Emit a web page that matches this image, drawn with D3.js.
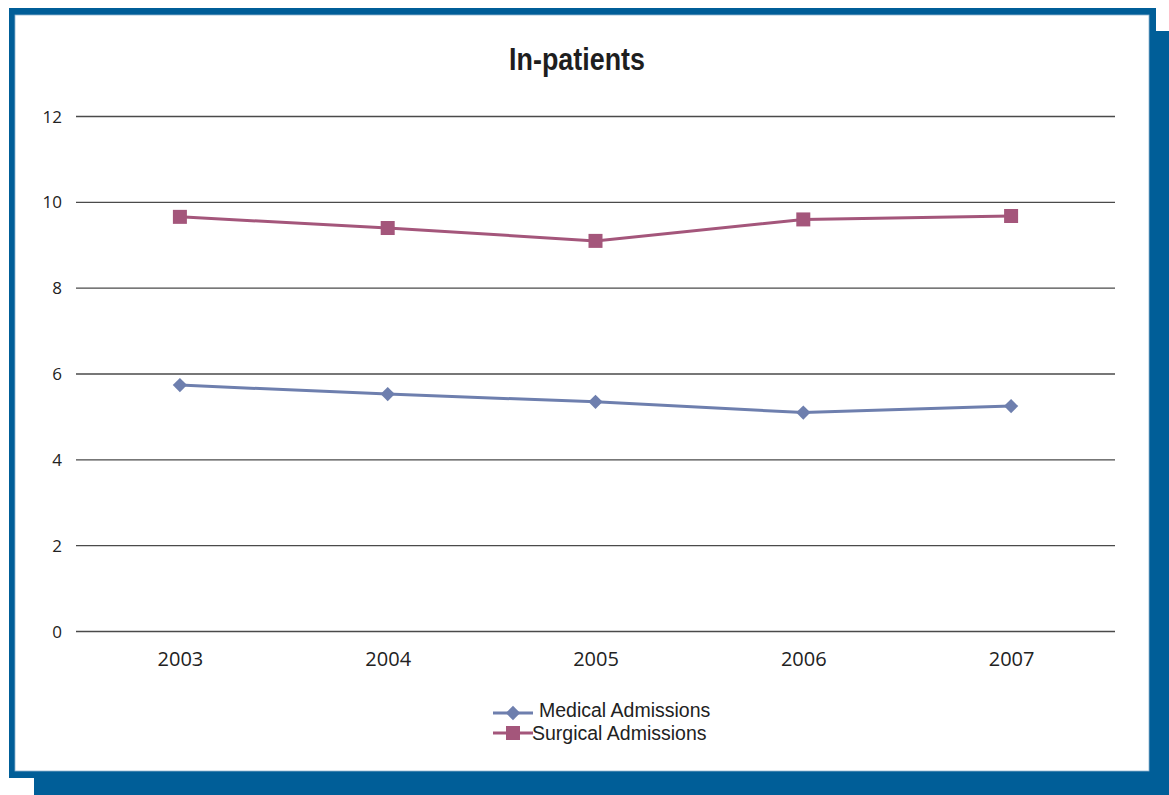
<!DOCTYPE html>
<html>
<head>
<meta charset="utf-8">
<script src="https://cdn.jsdelivr.net/npm/d3@7/dist/d3.min.js"></script>
<style>
  html, body { margin: 0; padding: 0; background: #ffffff; }
  svg { display: block; }
</style>
</head>
<body>
<script>
// In-patient admissions per year
const years = ["2003", "2004", "2005", "2006", "2007"];
const medicalAdmissions = [5.73, 5.52, 5.34, 5.09, 5.24];
const surgicalAdmissions = [9.65, 9.39, 9.09, 9.59, 9.67];
const yTicks = [0, 2, 4, 6, 8, 10, 12];
const seriesNames = ["Medical Admissions", "Surgical Admissions"];

const W = 1169, H = 795;
const frameBlue = "#005e98";
const medColor = "#6e7fae";
const surgColor = "#a4567b";

const svg = d3.select("body").append("svg")
  .attr("width", W).attr("height", H);

// Framed panel with offset shadow
svg.append("rect").attr("x", 34).attr("y", 31).attr("width", W - 34).attr("height", H - 31)
  .attr("fill", frameBlue);
svg.append("rect").attr("x", 9).attr("y", 8).attr("width", 1147).attr("height", 770)
  .attr("fill", frameBlue);
svg.append("rect").attr("x", 15).attr("y", 15).attr("width", 1134).attr("height", 756)
  .attr("fill", "#ffffff").attr("stroke", "#8fb3d0").attr("stroke-width", 0.8);

const plot = { left: 76, right: 1115, top: 116, bottom: 631 };

const x = d3.scalePoint().domain(years).range([plot.left, plot.right]).padding(0.5);
const y = d3.scaleLinear().domain([0, 12]).range([plot.bottom, plot.top]);

// Title (condensed bold look via horizontal squeeze)
svg.append("g")
  .attr("transform", "translate(577,70) scale(0.84,1)")
  .append("text")
  .attr("x", 0).attr("y", 0)
  .attr("text-anchor", "middle")
  .attr("font-family", "'Liberation Sans', Arial, sans-serif")
  .attr("font-weight", "bold")
  .attr("font-size", 32)
  .attr("fill", "#1e1e1e")
  .text("In-patients");

// Horizontal gridlines + y labels
const yAxis = d3.axisLeft(y).tickValues(yTicks).tickSize(-(plot.right - plot.left)).tickPadding(14);
const gy = svg.append("g").attr("transform", `translate(${plot.left},0)`).call(yAxis);
gy.select(".domain").remove();
gy.selectAll(".tick line").attr("stroke", "#4a4a4a").attr("stroke-width", 1.3);
gy.selectAll(".tick text")
  .attr("font-family", "'Open Sans', sans-serif")
  .attr("font-size", 17)
  .attr("fill", "#222")
  .attr("dy", "0.36em");

// X labels
const xAxis = d3.axisBottom(x).tickSize(0).tickPadding(21);
const gx = svg.append("g").attr("transform", `translate(0,${plot.bottom})`).call(xAxis);
gx.select(".domain").remove();
gx.selectAll(".tick text")
  .attr("font-family", "'Open Sans', sans-serif")
  .attr("font-size", 20)
  .attr("fill", "#222");

const line = d3.line().x((d, i) => x(years[i])).y(d => y(d));

// Medical series: line with diamonds
svg.append("path").datum(medicalAdmissions)
  .attr("d", line).attr("fill", "none")
  .attr("stroke", medColor).attr("stroke-width", 3);
const diamond = d3.symbol().type(d3.symbolDiamond2).size(130);
svg.selectAll(".med").data(medicalAdmissions).join("path")
  .attr("class", "med")
  .attr("d", diamond)
  .attr("transform", (d, i) => `translate(${x(years[i])},${y(d)})`)
  .attr("fill", medColor);

// Surgical series: line with squares
svg.append("path").datum(surgicalAdmissions)
  .attr("d", line).attr("fill", "none")
  .attr("stroke", surgColor).attr("stroke-width", 3);
svg.selectAll(".surg").data(surgicalAdmissions).join("rect")
  .attr("class", "surg")
  .attr("x", (d, i) => x(years[i]) - 7)
  .attr("y", d => y(d) - 7)
  .attr("width", 14).attr("height", 14)
  .attr("fill", surgColor);

// Legend
const legend = svg.append("g");
const legendRows = [
  { name: seriesNames[0], color: medColor, shape: "diamond", y: 713, tx: 539, ty: 717 },
  { name: seriesNames[1], color: surgColor, shape: "square", y: 733, tx: 532, ty: 740 }
];
legendRows.forEach(r => {
  legend.append("line").attr("x1", 493).attr("x2", 533).attr("y1", r.y).attr("y2", r.y)
    .attr("stroke", r.color).attr("stroke-width", 3);
  if (r.shape === "diamond") {
    legend.append("path").attr("d", diamond).attr("transform", `translate(513,${r.y})`)
      .attr("fill", r.color);
  } else {
    legend.append("rect").attr("x", 506).attr("y", r.y - 7).attr("width", 14).attr("height", 14)
      .attr("fill", r.color);
  }
  legend.append("text").attr("x", r.tx).attr("y", r.ty)
    .attr("font-family", "'Liberation Sans', Arial, sans-serif")
    .attr("font-size", 19.5).attr("fill", "#222")
    .text(r.name);
});
</script>
</body>
</html>
